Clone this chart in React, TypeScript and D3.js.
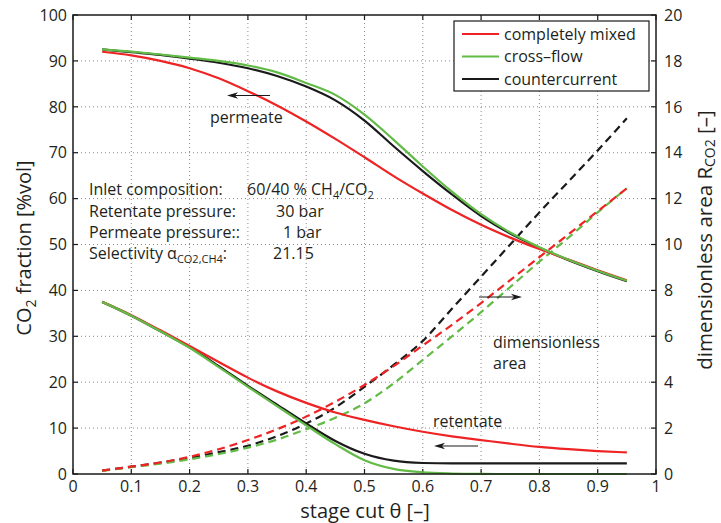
import React from 'react';
import * as d3 from 'd3';

const theta = [0.05, 0.1, 0.15, 0.2, 0.25, 0.3, 0.35, 0.4, 0.45, 0.5, 0.55, 0.6, 0.65, 0.7, 0.75, 0.8, 0.85, 0.9, 0.95];

// permeate CO2 fraction [%vol]
const permMixed = [92.0, 91.2, 90.0, 88.4, 86.2, 83.4, 80.3, 76.8, 73.0, 69.0, 64.9, 61.1, 57.5, 54.3, 51.5, 49.0, 46.7, 44.4, 42.2];
const permCross = [92.5, 92.0, 91.4, 90.7, 90.0, 89.0, 87.5, 85.2, 82.6, 78.3, 72.8, 67.0, 61.5, 56.6, 52.6, 49.4, 46.7, 44.3, 42.1];
const permCounter = [92.5, 91.9, 91.3, 90.5, 89.6, 88.4, 86.7, 84.4, 81.4, 77.0, 71.4, 66.0, 60.9, 56.2, 52.4, 49.3, 46.6, 44.2, 42.0];

// retentate CO2 fraction [%vol]
const retMixed = [37.5, 34.6, 31.3, 27.9, 24.4, 21.0, 18.0, 15.5, 13.4, 11.8, 10.4, 9.2, 8.2, 7.4, 6.6, 5.9, 5.4, 5.0, 4.7];
const retCross = [37.5, 34.5, 31.1, 27.5, 23.3, 19.0, 14.8, 10.6, 6.5, 3.0, 1.1, 0.35, 0.1, 0.02, 0, 0, 0, 0, 0];
const retCounter = [37.5, 34.5, 31.1, 27.6, 23.5, 19.2, 15.1, 11.0, 7.2, 4.4, 2.9, 2.4, 2.3, 2.3, 2.3, 2.3, 2.3, 2.3, 2.3];

// dimensionless area R_CO2 [-]
const areaMixed = [0.15, 0.32, 0.5, 0.75, 1.08, 1.48, 1.95, 2.5, 3.15, 3.88, 4.7, 5.6, 6.5, 7.45, 8.45, 9.45, 10.45, 11.45, 12.45];
const areaCross = [0.13, 0.3, 0.45, 0.64, 0.87, 1.15, 1.5, 1.95, 2.45, 3.08, 3.95, 4.97, 6.0, 7.05, 8.15, 9.25, 10.3, 11.4, 12.45];
const areaCounter = [0.15, 0.32, 0.5, 0.7, 0.95, 1.23, 1.65, 2.2, 2.9, 3.8, 4.75, 5.8, 7.2, 8.6, 10.0, 11.4, 12.75, 14.1, 15.5];

const xTicks = [0, 0.1, 0.2, 0.3, 0.4, 0.5, 0.6, 0.7, 0.8, 0.9, 1];
const xTickLabels = ['0', '0.1', '0.2', '0.3', '0.4', '0.5', '0.6', '0.7', '0.8', '0.9', '1'];
const yLTicks = [0, 10, 20, 30, 40, 50, 60, 70, 80, 90, 100];
const yRTicks = [0, 2, 4, 6, 8, 10, 12, 14, 16, 18, 20];

const legendNames = ['completely mixed', 'cross\u2013flow', 'countercurrent'];

const RED = '#ee2324';
const GREEN = '#62bb46';
const BLACK = '#1a1a1a';
const FONT = '"Open Sans", "Noto Sans", sans-serif';
const TXT = '#231f20';

export default function App() {
  const L = 73, R = 656, T = 15, B = 474;
  const x = d3.scaleLinear().domain([0, 1]).range([L, R]);
  const yL = d3.scaleLinear().domain([0, 100]).range([B, T]);
  const yR = d3.scaleLinear().domain([0, 20]).range([B, T]);

  const lineL = d3.line<number>().x((_, i) => x(theta[i])).y((d) => yL(d)).curve(d3.curveMonotoneX);
  const lineR = d3.line<number>().x((_, i) => x(theta[i])).y((d) => yR(d)).curve(d3.curveMonotoneX);

  const solid = [
    { d: permCounter, c: BLACK },
    { d: retCounter, c: BLACK },
    { d: permMixed, c: RED },
    { d: retMixed, c: RED },
    { d: permCross, c: GREEN },
    { d: retCross, c: GREEN },
  ];
  const dashed = [
    { d: areaCounter, c: BLACK },
    { d: areaCross, c: GREEN },
    { d: areaMixed, c: RED },
  ];

  const arrow = (x1: number, x2: number, y: number, key: string) => {
    const dir = Math.sign(x2 - x1);
    return (
      <g key={key}>
        <line x1={x1} y1={y} x2={x2 - dir * 6} y2={y} stroke={BLACK} strokeWidth={1.2} />
        <path d={`M${x2},${y} L${x2 - dir * 11},${y - 3.2} L${x2 - dir * 8},${y} L${x2 - dir * 11},${y + 3.2} Z`} fill={BLACK} />
      </g>
    );
  };

  const fs = 16;
  return (
    <svg width={721} height={523} style={{ position: 'absolute', left: 0, top: 0, background: '#fff' }} fontFamily={FONT}>
      <rect x={0} y={0} width={721} height={523} fill="#fff" />
      {/* grid */}
      <g stroke="#8a8a8a" strokeWidth={1} strokeDasharray="1,3">
        {xTicks.slice(1, -1).map((t) => (
          <line key={'gx' + t} x1={x(t)} x2={x(t)} y1={T} y2={B} />
        ))}
        {yLTicks.slice(1, -1).map((t) => (
          <line key={'gy' + t} x1={L} x2={R} y1={yL(t)} y2={yL(t)} />
        ))}
      </g>
      {/* ticks */}
      <g stroke={BLACK} strokeWidth={1.2}>
        {xTicks.map((t) => (
          <g key={'tx' + t}>
            <line x1={x(t)} x2={x(t)} y1={B} y2={B - 5} />
            <line x1={x(t)} x2={x(t)} y1={T} y2={T + 5} />
          </g>
        ))}
        {yLTicks.map((t) => (
          <line key={'tyl' + t} x1={L} x2={L + 5} y1={yL(t)} y2={yL(t)} />
        ))}
        {yRTicks.map((t) => (
          <line key={'tyr' + t} x1={R} x2={R - 5} y1={yR(t)} y2={yR(t)} />
        ))}
      </g>
      {/* tick labels */}
      <g fontSize={fs} fill={TXT}>
        {xTicks.map((t, i) => (
          <text key={'lx' + t} x={x(t)} y={492} textAnchor="middle">{xTickLabels[i]}</text>
        ))}
        {yLTicks.map((t) => (
          <text key={'lyl' + t} x={L - 6} y={yL(t)} dy="0.36em" textAnchor="end">{t}</text>
        ))}
        {yRTicks.map((t) => (
          <text key={'lyr' + t} x={R + 8} y={yR(t)} dy="0.36em" textAnchor="start">{t}</text>
        ))}
      </g>
      {/* data */}
      <g fill="none" strokeWidth={2.2}>
        {dashed.map((s, i) => (
          <path key={'ds' + i} d={lineR(s.d) || ''} stroke={s.c} strokeDasharray="8,5" />
        ))}
        {solid.map((s, i) => (
          <path key={'sl' + i} d={lineL(s.d) || ''} stroke={s.c} />
        ))}
      </g>
      {/* frame */}
      <rect x={L} y={T} width={R - L} height={B - T} fill="none" stroke={BLACK} strokeWidth={1.5} />
      {/* legend */}
      <g>
        <rect x={454} y={21} width={195} height={70} fill="#fff" stroke={BLACK} strokeWidth={1.2} />
        {legendNames.map((n, i) => {
          const yy = 34 + i * 22.5;
          const c = [RED, GREEN, BLACK][i];
          return (
            <g key={'lg' + i}>
              <line x1={462} x2={499} y1={yy} y2={yy} stroke={c} strokeWidth={2.2} />
              <text x={504} y={yy} dy="0.36em" fontSize={fs} fill={TXT}>{n}</text>
            </g>
          );
        })}
      </g>
      {/* annotations */}
      <g fontSize={fs} fill={TXT}>
        <text x={210} y={123}>permeate</text>
        <text x={89} y={195}>Inlet composition:</text>
        <text x={247} y={195}>
          60/40 % CH<tspan fontSize={11} dy={4}>4</tspan><tspan dy={-4}>/CO</tspan><tspan fontSize={11} dy={4}>2</tspan>
        </text>
        <text x={89} y={216.5}>Retentate pressure:</text>
        <text x={276} y={216.5}>30 bar</text>
        <text x={89} y={238}>Permeate pressure::</text>
        <text x={283} y={238}>1 bar</text>
        <text x={89} y={259}>
          Selectivity {'\u03b1'}<tspan fontSize={11} dy={4}>CO2,CH4</tspan><tspan dy={-4}>:</tspan>
        </text>
        <text x={273} y={259}>21.15</text>
        <text x={493} y={348}>dimensionless</text>
        <text x={493} y={369}>area</text>
        <text x={433} y={427}>retentate</text>
      </g>
      {arrow(270, 227, 95.5, 'a1')}
      {arrow(479, 522, 297, 'a2')}
      {arrow(478, 434, 446, 'a3')}
      {/* axis labels */}
      <text x={365} y={518} textAnchor="middle" fontSize={20} fill={TXT}>stage cut {'\u03b8'} [{'\u2013'}]</text>
      <text transform="translate(31,248) rotate(-90)" textAnchor="middle" fontSize={20} fill={TXT}>
        CO<tspan fontSize={14} dy={5}>2</tspan><tspan dy={-5}> fraction [%vol]</tspan>
      </text>
      <text transform="translate(712,240) rotate(-90)" textAnchor="middle" fontSize={20.5} fill={TXT}>
        dimensionless area R<tspan fontSize={14} dy={3}>CO2</tspan><tspan dy={-3}> [{'\u2013'}]</tspan>
      </text>
    </svg>
  );
}
